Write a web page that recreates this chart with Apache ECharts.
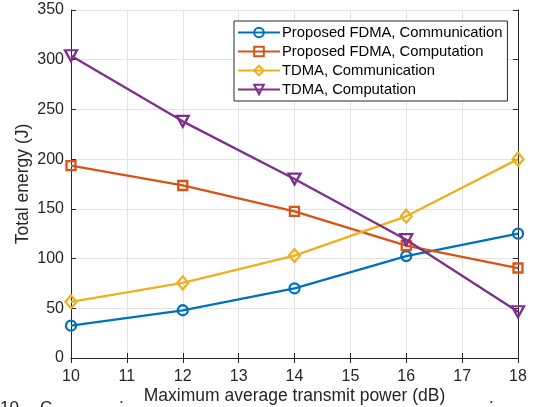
<!DOCTYPE html>
<html><head><meta charset="utf-8">
<script src="https://cdn.jsdelivr.net/npm/echarts@6/dist/echarts.min.js"></script>
<style>html,body{margin:0;padding:0;background:#fff}#c{width:536px;height:407px}</style>
</head><body><div id="c"></div>
<script>
var xValues = [10, 12, 14, 16, 18];
var fdmaComm = [32.5, 48, 70, 102.5, 125];
var fdmaComp = [193.5, 173.5, 147.5, 113, 90.5];
var tdmaComm = [56.5, 75.5, 103, 142.5, 200];
var tdmaComp = [304, 238, 180, 119, 46.5];
var seriesNames = ['Proposed FDMA, Communication', 'Proposed FDMA, Computation', 'TDMA, Communication', 'TDMA, Computation'];
var xTicks = [10, 11, 12, 13, 14, 15, 16, 17, 18];
var yTicks = [0, 50, 100, 150, 200, 250, 300, 350];

var colors = ['#0072BD', '#D95319', '#EDB120', '#7E2F8E'];
var symbols = ['circle', 'rect', 'diamond', 'path://M0,0 L10,0 L5,9 Z'];
var sizes = [[10,10], [9,9], [11,13], [12,11]];
var FONT = '"Liberation Sans", Arial, Helvetica, sans-serif';

function pairs(arr){ return xValues.map(function(x,i){ return [x, arr[i]]; }); }
var allData = [fdmaComm, fdmaComp, tdmaComm, tdmaComp];

var series = allData.map(function(d, i){
  return {
    name: seriesNames[i], type: 'line', data: pairs(d),
    symbol: symbols[i], symbolSize: sizes[i], showAllSymbol: true,
    lineStyle: {color: colors[i], width: 2.3},
    itemStyle: {color: 'rgba(255,255,255,0)', borderColor: colors[i], borderWidth: 2.3},
    emphasis: {disabled: true}, animation: false, z: 3 + i
  };
});

var axisLineStyle = {color: '#262626', width: 1};
var chart = echarts.init(document.getElementById('c'), null, {renderer: 'canvas'});
chart.setOption({
  animation: false,
  grid: {left: 71, right: 18, top: 10, bottom: 49, containLabel: false, outerBoundsMode: 'none'},
  legend: {
    orient: 'vertical', left: 234, top: 21,
    padding: [4, 5, 4, 3], itemGap: 4, itemWidth: 42, itemHeight: 12,
    borderColor: '#262626', borderWidth: 1, backgroundColor: '#fff',
    textStyle: {fontFamily: FONT, fontSize: 14.8, color: '#000', lineHeight: 15, padding: [0,0,0,-3]},
    data: seriesNames
  },
  xAxis: [{
    type: 'value', min: 10, max: 18, interval: 1,
    name: 'Maximum average transmit power (dB)', nameLocation: 'middle', nameGap: 29, nameMoveOverlap: false,
    nameTextStyle: {fontFamily: FONT, fontSize: 17.5, color: '#262626'},
    axisLine: {lineStyle: axisLineStyle}, axisTick: {inside: true, length: 5, lineStyle: axisLineStyle},
    axisLabel: {fontFamily: FONT, fontSize: 16, color: '#262626', margin: 11,
      formatter: function(v){ return xTicks.indexOf(v) >= 0 ? String(v) : ''; }},
    splitLine: {show: true, lineStyle: {color: '#e3e3e3', width: 1}}
  }, {
    type: 'value', position: 'top', min: 10, max: 18, interval: 1,
    axisLine: {show: true, lineStyle: axisLineStyle}, axisTick: {show: true, inside: true, length: 5, lineStyle: axisLineStyle},
    axisLabel: {show: false}, splitLine: {show: false}
  }],
  yAxis: [{
    type: 'value', min: 0, max: 350, interval: 50,
    name: 'Total energy (J)', nameLocation: 'middle', nameGap: 39, nameMoveOverlap: false,
    nameTextStyle: {fontFamily: FONT, fontSize: 17.5, color: '#262626'},
    axisLine: {show: true, lineStyle: axisLineStyle}, axisTick: {show: true, inside: true, length: 5, lineStyle: axisLineStyle},
    axisLabel: {fontFamily: FONT, fontSize: 16, color: '#262626', margin: 7,
      formatter: function(v){ return yTicks.indexOf(v) >= 0 ? String(v) : ''; }},
    splitLine: {show: true, lineStyle: {color: '#e3e3e3', width: 1}}
  }, {
    type: 'value', position: 'right', min: 0, max: 350, interval: 50,
    axisLine: {show: true, lineStyle: axisLineStyle}, axisTick: {show: true, inside: true, length: 5, lineStyle: axisLineStyle},
    axisLabel: {show: false}, splitLine: {show: false}
  }],
  graphic: [
    {type: 'text', left: 0, top: 400, style: {text: '10.', font: '17px ' + FONT, fill: '#222'}},
    {type: 'text', left: 40, top: 400, style: {text: 'C', font: '17px ' + FONT, fill: '#222'}},
    {type: 'text', left: 119, top: 390, style: {text: '.', font: '17px ' + FONT, fill: '#222'}},
    {type: 'text', left: 489, top: 390, style: {text: '.', font: '17px ' + FONT, fill: '#222'}}
  ],
  series: series
});
</script></body></html>
